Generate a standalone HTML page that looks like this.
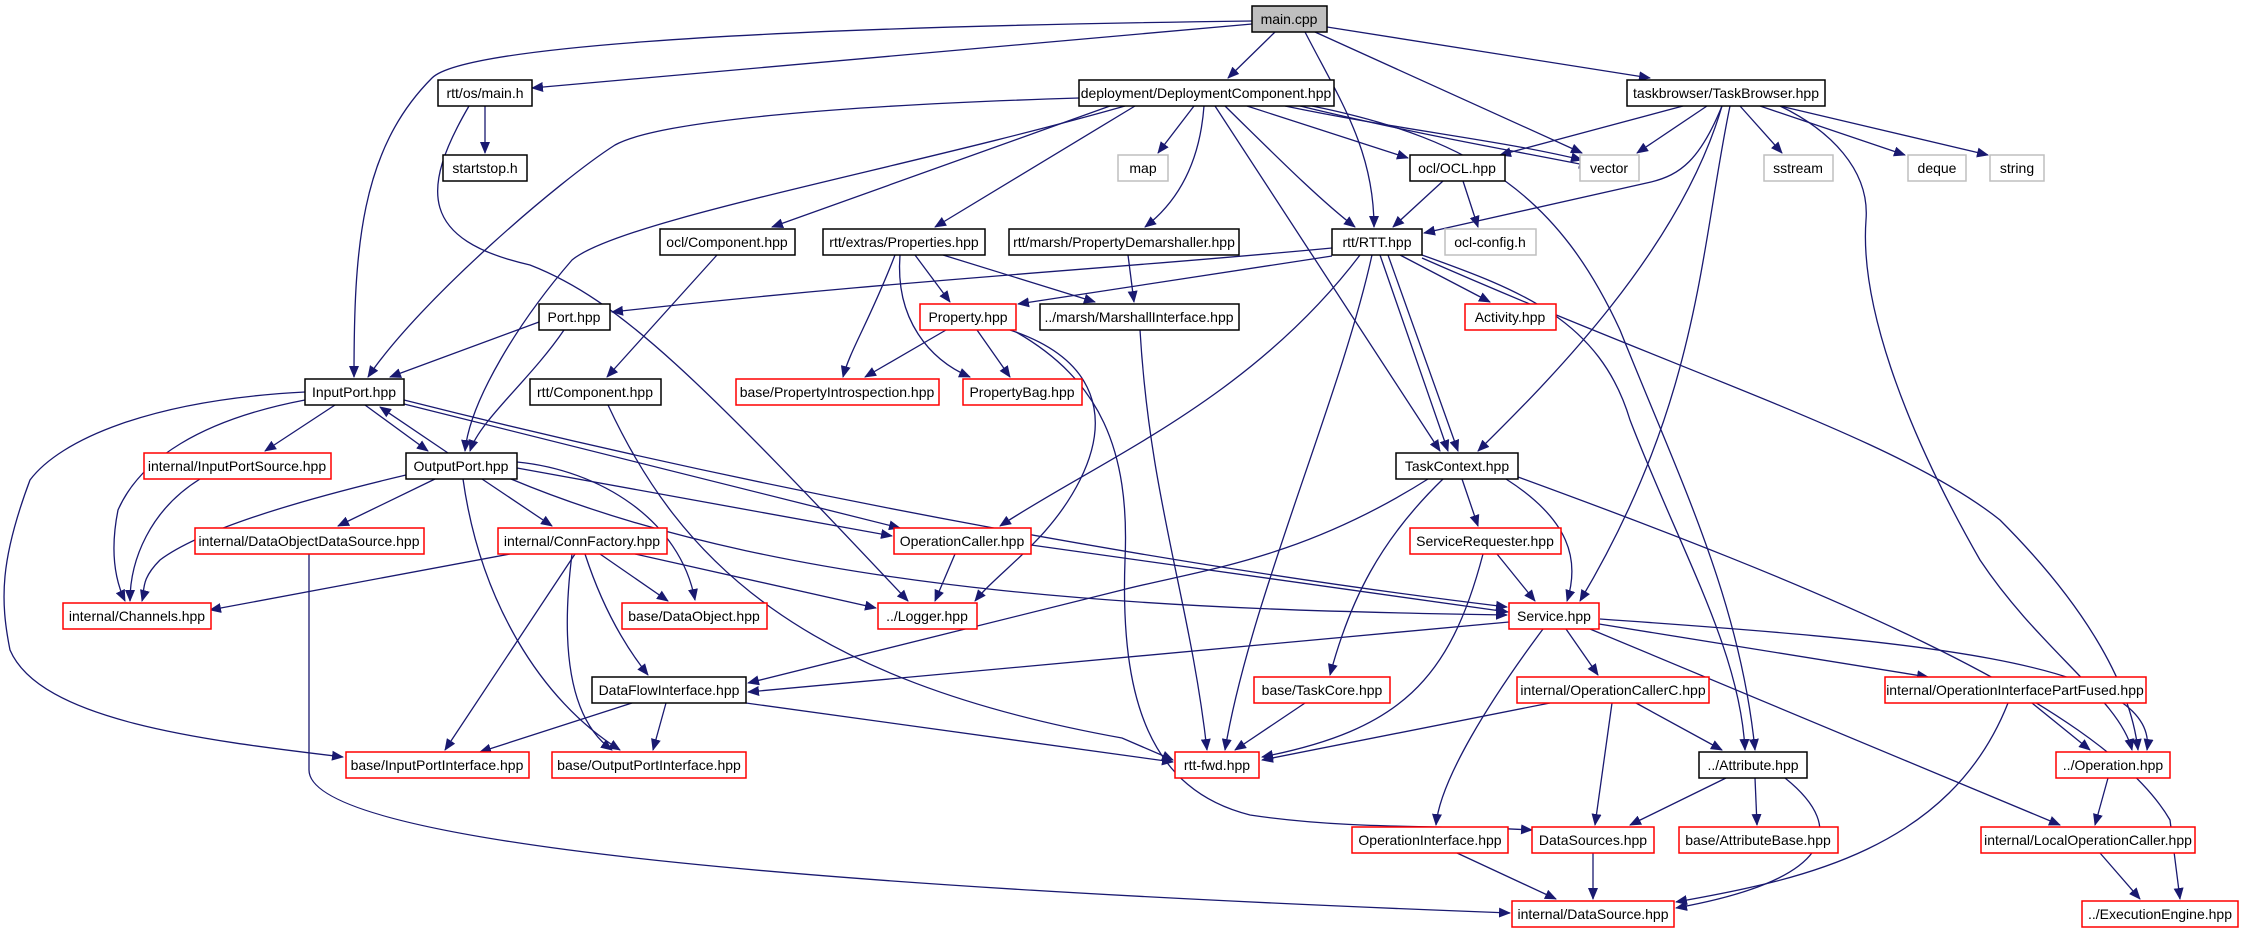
<!DOCTYPE html>
<html><head><meta charset="utf-8"><style>
html,body{margin:0;padding:0;background:#fff;}
svg{display:block;}
text{font-family:"Liberation Sans",sans-serif;font-size:14px;fill:#000;}
</style></head><body>
<svg width="2244" height="933" viewBox="0 0 2244 933" xmlns="http://www.w3.org/2000/svg">
<defs><marker id="a" markerWidth="12" markerHeight="10" refX="11" refY="5" orient="auto" markerUnits="userSpaceOnUse"><path d="M0,0 L12,5 L0,10 z" fill="#191970"/></marker></defs>
<g fill="none" stroke="#191970" stroke-width="1.3" marker-end="url(#a)">
<path d="M1252,21 C700,28 460,50 432,78 C360,150 354,250 354,377"/>
<path d="M1252,24 L532,88"/>
<path d="M1275,32 L1228,78"/>
<path d="M1305,32 C1340,100 1374,150 1374,227"/>
<path d="M1315,32 L1582,153"/>
<path d="M1327,27 L1650,78"/>
<path d="M485,106 L485,153"/>
<path d="M469,106 C420,190 420,240 530,265 C620,300 700,380 908,601"/>
<path d="M1079,98 C850,105 660,120 615,145 C560,180 420,300 368,377"/>
<path d="M1125,106 C900,170 620,220 572,260 C520,320 470,400 465,451"/>
<path d="M1110,106 L772,227"/>
<path d="M1135,106 L935,227"/>
<path d="M1194,106 L1158,153"/>
<path d="M1204,106 C1200,160 1180,200 1145,227"/>
<path d="M1247,106 L1408,158"/>
<path d="M1285,106 C1400,130 1500,140 1582,160"/>
<path d="M1300,106 C1420,135 1510,150 1590,166"/>
<path d="M1312,106 C1480,140 1560,200 1620,330 C1680,480 1740,600 1755,750"/>
<path d="M1225,106 C1280,160 1320,200 1355,227"/>
<path d="M1215,106 L1440,451"/>
<path d="M1332,248 C1100,270 900,280 612,312"/>
<path d="M1332,256 L1018,304"/>
<path d="M1360,255 C1250,400 1100,460 1000,526"/>
<path d="M1372,255 C1340,400 1250,600 1225,750"/>
<path d="M1380,255 L1448,451"/>
<path d="M1388,255 L1458,451"/>
<path d="M1400,255 L1490,302"/>
<path d="M1422,255 C1520,290 1600,320 1630,420 C1680,550 1740,650 1745,750"/>
<path d="M1422,258 C1700,380 1900,440 2000,520 C2080,600 2130,680 2138,750"/>
<path d="M1518,477 C1800,580 2100,700 2170,820 L2180,899"/>
<path d="M1683,106 L1500,155"/>
<path d="M1707,106 L1637,153"/>
<path d="M1722,106 C1700,160 1680,175 1651,182 L1424,233"/>
<path d="M1722,106 C1680,250 1550,380 1478,451"/>
<path d="M1730,106 C1700,250 1700,400 1580,601"/>
<path d="M1740,106 L1782,153"/>
<path d="M1760,106 L1905,155"/>
<path d="M1780,106 L1988,155"/>
<path d="M1780,106 C1830,130 1870,170 1866,220 C1860,300 1900,420 1980,560 C2040,650 2120,700 2132,750"/>
<path d="M1443,181 L1393,227"/>
<path d="M1463,181 L1478,227"/>
<path d="M717,255 L607,377"/>
<path d="M915,255 L950,302"/>
<path d="M895,255 C870,320 850,350 843,377"/>
<path d="M900,255 C895,320 930,360 970,377"/>
<path d="M943,255 L1095,302"/>
<path d="M1128,255 L1134,302"/>
<path d="M539,322 L390,377"/>
<path d="M564,330 C530,380 480,420 470,451"/>
<path d="M946,330 L865,377"/>
<path d="M977,330 L1010,377"/>
<path d="M1010,330 C1100,360 1110,420 1080,480 C1050,540 1000,570 975,601"/>
<path d="M1016,332 C1100,380 1130,450 1125,560 C1120,700 1150,790 1250,815 C1350,830 1450,825 1532,830"/>
<path d="M1140,330 C1150,500 1190,600 1207,750"/>
<path d="M335,405 L265,451"/>
<path d="M365,405 L428,451"/>
<path d="M448,453 L380,407"/>
<path d="M305,392 C150,400 60,440 30,480 C0,560 0,600 10,650 C40,720 200,740 343,757"/>
<path d="M305,400 C200,420 140,460 118,510 C110,550 115,580 125,601"/>
<path d="M404,404 L900,528"/>
<path d="M404,400 C800,500 1200,570 1507,607"/>
<path d="M406,475 C300,500 200,530 160,560 C140,580 145,590 142,601"/>
<path d="M435,479 L338,526"/>
<path d="M482,479 L552,526"/>
<path d="M517,468 L892,536"/>
<path d="M511,479 C800,600 1200,610 1507,615"/>
<path d="M517,462 C600,470 680,520 695,600"/>
<path d="M463,479 C480,600 540,700 620,750"/>
<path d="M608,405 C680,560 800,680 1122,738 L1173,760"/>
<path d="M200,479 C150,510 130,560 130,601"/>
<path d="M309,554 L309,770 C309,850 900,890 1510,913"/>
<path d="M510,554 L210,610"/>
<path d="M600,554 L668,601"/>
<path d="M635,554 L876,608"/>
<path d="M585,554 C600,600 620,640 648,675"/>
<path d="M575,554 L445,750"/>
<path d="M572,554 C560,650 570,720 612,750"/>
<path d="M955,554 L935,601"/>
<path d="M1031,545 L1508,612"/>
<path d="M1428,479 C1300,560 1200,570 1122,590 L748,683"/>
<path d="M1462,479 L1478,526"/>
<path d="M1506,479 C1570,520 1580,560 1567,601"/>
<path d="M1443,479 C1380,540 1350,600 1330,675"/>
<path d="M1497,554 L1535,601"/>
<path d="M1483,554 C1450,680 1400,730 1262,757"/>
<path d="M1509,622 L748,692"/>
<path d="M1566,629 L1598,675"/>
<path d="M1543,629 C1490,700 1440,780 1436,825"/>
<path d="M1599,624 L1928,677"/>
<path d="M1600,619 C1900,640 2160,660 2147,750"/>
<path d="M1590,629 L2060,825"/>
<path d="M632,703 L480,752"/>
<path d="M666,703 L653,750"/>
<path d="M746,703 L1173,762"/>
<path d="M1305,703 L1235,750"/>
<path d="M1550,703 L1262,760"/>
<path d="M1612,703 L1595,825"/>
<path d="M1636,703 L1722,750"/>
<path d="M2032,703 L2090,750"/>
<path d="M2008,703 C1950,850 1800,880 1676,902"/>
<path d="M1726,778 L1630,825"/>
<path d="M1755,778 L1757,825"/>
<path d="M1785,778 C1850,830 1830,880 1676,908"/>
<path d="M2108,778 L2095,825"/>
<path d="M1457,853 L1556,899"/>
<path d="M1593,853 L1593,899"/>
<path d="M2100,853 L2140,899"/>
</g>
<g stroke-width="1.5">
<rect x="1252" y="6" width="75" height="26" fill="#bfbfbf" stroke="#000"/>
<g fill="#fff" stroke="#000">
<rect x="438" y="80" width="94" height="26"/>
<rect x="1079" y="80" width="255" height="26"/>
<rect x="1627" y="80" width="198" height="26"/>
<rect x="443" y="155" width="84" height="26"/>
<rect x="1410" y="155" width="95" height="26"/>
<rect x="660" y="229" width="135" height="26"/>
<rect x="823" y="229" width="162" height="26"/>
<rect x="1009" y="229" width="230" height="26"/>
<rect x="1332" y="229" width="90" height="26"/>
<rect x="539" y="304" width="71" height="26"/>
<rect x="1040" y="304" width="199" height="26"/>
<rect x="305" y="379" width="99" height="26"/>
<rect x="530" y="379" width="131" height="26"/>
<rect x="406" y="453" width="111" height="26"/>
<rect x="1396" y="453" width="122" height="26"/>
<rect x="592" y="677" width="154" height="26"/>
<rect x="1699" y="752" width="108" height="26"/>
</g>
<g fill="#fff" stroke="#bfbfbf">
<rect x="1118" y="155" width="50" height="26"/>
<rect x="1580" y="155" width="59" height="26"/>
<rect x="1764" y="155" width="69" height="26"/>
<rect x="1908" y="155" width="58" height="26"/>
<rect x="1990" y="155" width="54" height="26"/>
<rect x="1445" y="229" width="91" height="26"/>
</g>
<g fill="#fff" stroke="#ff0000">
<rect x="920" y="304" width="96" height="26"/>
<rect x="1465" y="304" width="91" height="26"/>
<rect x="736" y="379" width="203" height="26"/>
<rect x="963" y="379" width="119" height="26"/>
<rect x="144" y="453" width="187" height="26"/>
<rect x="195" y="528" width="229" height="26"/>
<rect x="498" y="528" width="169" height="26"/>
<rect x="894" y="528" width="137" height="26"/>
<rect x="1410" y="528" width="151" height="26"/>
<rect x="63" y="603" width="148" height="26"/>
<rect x="622" y="603" width="145" height="26"/>
<rect x="878" y="603" width="99" height="26"/>
<rect x="1509" y="603" width="90" height="26"/>
<rect x="1254" y="677" width="136" height="26"/>
<rect x="1517" y="677" width="192" height="26"/>
<rect x="1885" y="677" width="261" height="26"/>
<rect x="346" y="752" width="183" height="26"/>
<rect x="552" y="752" width="194" height="26"/>
<rect x="1175" y="752" width="84" height="26"/>
<rect x="2056" y="752" width="114" height="26"/>
<rect x="1352" y="827" width="156" height="26"/>
<rect x="1532" y="827" width="122" height="26"/>
<rect x="1679" y="827" width="159" height="26"/>
<rect x="1981" y="827" width="214" height="26"/>
<rect x="1512" y="901" width="162" height="26"/>
<rect x="2082" y="901" width="156" height="26"/>
</g>
</g>
<g text-anchor="middle">
<text x="1289" y="24">main.cpp</text>
<text x="485" y="98">rtt/os/main.h</text>
<text x="1206" y="98">deployment/DeploymentComponent.hpp</text>
<text x="1726" y="98">taskbrowser/TaskBrowser.hpp</text>
<text x="485" y="173">startstop.h</text>
<text x="1143" y="173">map</text>
<text x="1457" y="173">ocl/OCL.hpp</text>
<text x="1609" y="173">vector</text>
<text x="1798" y="173">sstream</text>
<text x="1937" y="173">deque</text>
<text x="2017" y="173">string</text>
<text x="727" y="247">ocl/Component.hpp</text>
<text x="904" y="247">rtt/extras/Properties.hpp</text>
<text x="1124" y="247">rtt/marsh/PropertyDemarshaller.hpp</text>
<text x="1377" y="247">rtt/RTT.hpp</text>
<text x="1490" y="247">ocl-config.h</text>
<text x="574" y="322">Port.hpp</text>
<text x="968" y="322">Property.hpp</text>
<text x="1139" y="322">../marsh/MarshallInterface.hpp</text>
<text x="1510" y="322">Activity.hpp</text>
<text x="354" y="397">InputPort.hpp</text>
<text x="595" y="397">rtt/Component.hpp</text>
<text x="837" y="397">base/PropertyIntrospection.hpp</text>
<text x="1022" y="397">PropertyBag.hpp</text>
<text x="237" y="471">internal/InputPortSource.hpp</text>
<text x="461" y="471">OutputPort.hpp</text>
<text x="1457" y="471">TaskContext.hpp</text>
<text x="309" y="546">internal/DataObjectDataSource.hpp</text>
<text x="582" y="546">internal/ConnFactory.hpp</text>
<text x="962" y="546">OperationCaller.hpp</text>
<text x="1485" y="546">ServiceRequester.hpp</text>
<text x="137" y="621">internal/Channels.hpp</text>
<text x="694" y="621">base/DataObject.hpp</text>
<text x="927" y="621">../Logger.hpp</text>
<text x="1554" y="621">Service.hpp</text>
<text x="669" y="695">DataFlowInterface.hpp</text>
<text x="1322" y="695">base/TaskCore.hpp</text>
<text x="1613" y="695">internal/OperationCallerC.hpp</text>
<text x="2015" y="695">internal/OperationInterfacePartFused.hpp</text>
<text x="437" y="770">base/InputPortInterface.hpp</text>
<text x="649" y="770">base/OutputPortInterface.hpp</text>
<text x="1217" y="770">rtt-fwd.hpp</text>
<text x="1753" y="770">../Attribute.hpp</text>
<text x="2113" y="770">../Operation.hpp</text>
<text x="1430" y="845">OperationInterface.hpp</text>
<text x="1593" y="845">DataSources.hpp</text>
<text x="1758" y="845">base/AttributeBase.hpp</text>
<text x="2088" y="845">internal/LocalOperationCaller.hpp</text>
<text x="1593" y="919">internal/DataSource.hpp</text>
<text x="2160" y="919">../ExecutionEngine.hpp</text>
</g>
</svg>
</body></html>
